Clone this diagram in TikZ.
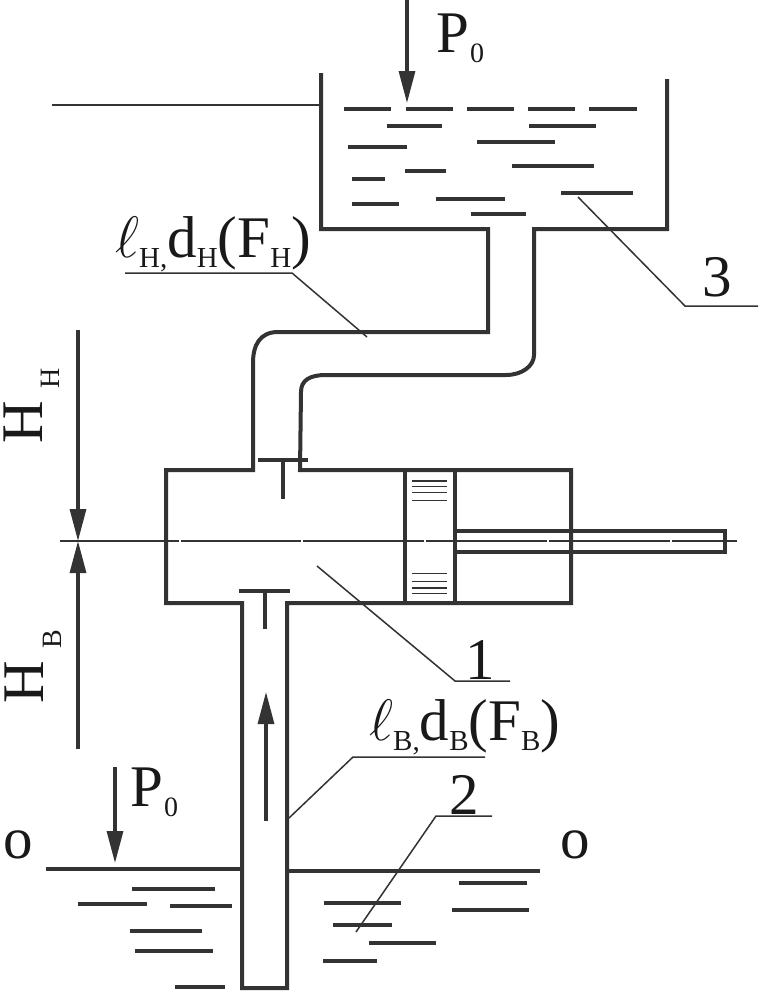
\documentclass[tikz,border=0pt]{standalone}
\usepackage{fontspec}
\setmainfont{Liberation Serif}
\usetikzlibrary{arrows.meta}
\definecolor{inkdark}{HTML}{333333}
\newcommand{\lowsub}[1]{{\fontsize{29}{30}\selectfont\raisebox{-10pt}{#1}}}
\newcommand{\ellsym}{\scalebox{2.35}{$\ell$}}
\tikzset{
	wall/.style={line width=4pt, color=inkdark, line join=miter},
	thinline/.style={line width=1.5pt, color=inkdark},
	liquid/.style={line width=4.4pt, color=inkdark},
	flow/.style={line width=3.2pt, color=inkdark, -{Triangle[length=32pt,width=16pt]}},
	bigtxt/.style={inner sep=0pt, color=black!90, font=\fontsize{59}{60}\selectfont},
	subtxt/.style={inner sep=0pt, color=black!90, font=\fontsize{28}{30}\selectfont}
}

\begin{document}
\begin{tikzpicture}[x=1pt, y=-1pt]
	\useasboundingbox (0, 0) rectangle (758, 991);
	\fill[white] (0, 0) rectangle (758, 991);

	% upper tank
	\draw[wall] (321, 73) -- (321, 229) -- (488, 229) -- (488, 332) -- (278, 332)
		.. controls (260, 332) and (253, 345) .. (253, 363) -- (253, 470) -- (166, 470)
		-- (166, 603) -- (242, 603) -- (242, 988) -- (287, 988) -- (287, 603) -- (571, 603)
		-- (571, 470) -- (300, 470) -- (301, 392)
		.. controls (301, 380) and (310, 375) .. (326, 375) -- (506, 375)
		.. controls (522, 375) and (534, 366) .. (534, 355) -- (534, 229) -- (667, 229) -- (667, 79);
	\draw[thinline] (52, 105) -- (321, 105);

	\foreach \ya/\xa/\xb in {109/344/391, 109/406/453, 109/467/514, 109/528/575, 109/589/637,
		126/387/442, 126/529/596, 142/477/555, 147/348/407, 166/512/594, 171/405/446,
		179/352/385, 193/561/633, 199/436/505, 204/352/399, 214/471/526}
		\draw[liquid] (\xa, \ya) -- (\xb, \ya);

	\draw[flow] (407, 0) -- (407, 103);
	\node[bigtxt] (topP) at (453, 33) {P};
	\node[subtxt] (topzero) at (477, 53) {0};

	% cylinder and piston
	\draw[wall] (405, 470) rectangle (455, 603);
	\draw[wall] (455, 531) -- (725, 531) -- (725, 552) -- (455, 552);
	\foreach \ya in {481, 486.5, 492.5, 500.5, 573.5, 581.5, 588, 593.5}
		\draw[line width=1.6pt, color=inkdark] (412, \ya) -- (447, \ya);

	\draw[wall] (258, 460) -- (308, 460);
	\draw[wall] (283, 460) -- (283, 499);
	\draw[wall] (239, 591) -- (290, 591);
	\draw[wall] (265, 591) -- (265, 629);

	\draw[thinline] (60, 541) -- (737, 541);
	\foreach \xa in {180, 302, 425, 548, 671}
		\draw[line width=2.2pt, color=white] (\xa-0.7, 541) -- (\xa+0.7, 541);

	% levels
	\draw[flow] (78, 330) -- (78, 541);
	\draw[flow] (78, 749) -- (78, 541);
	\node[bigtxt, rotate=90] (bigHtop) at (23, 422) {H};
	\node[subtxt, rotate=90] (subHtop) at (50, 378) {H};
	\node[bigtxt, rotate=90] (bigHlow) at (24, 682) {H};
	\node[subtxt, rotate=90] (subHlow) at (52, 639) {B};

	% intake pipe and lower basin
	\draw[flow] (266, 821) -- (266, 692);
	\draw[flow] (115, 767) -- (115, 863);
	\node[bigtxt] (lowP) at (147, 787) {P};
	\node[subtxt] (lowzero) at (171, 807) {0};
	\node[bigtxt] (leftlevel) at (18, 845) {o};
	\node[bigtxt] (rightlevel) at (575, 845) {o};

	\draw[liquid] (46, 869) -- (242, 869);
	\draw[liquid] (287, 871) -- (540, 871);
	\foreach \ya/\xa/\xb in {889/132/215, 904/78/147, 906/170/232, 931/130/202, 951/135/213, 987/175/225,
		883/459/527, 903/324/401, 910/452/529, 925/333/392, 943/369/436, 961/323/377}
		\draw[liquid] (\xa, \ya) -- (\xb, \ya);

	% leaders and labels
	\draw[thinline] (578, 197) -- (685, 306) -- (758, 306);
	\node[bigtxt] (three) at (717, 277) {3};
	\draw[thinline] (125, 273) -- (292, 273) -- (367, 337);
	\node[bigtxt, anchor=base west] (upperlabel) at (115, 257) {\ellsym\lowsub{H,}d\lowsub{H}(F\lowsub{H})};
	\draw[thinline] (317, 566) -- (455, 681) -- (510, 681);
	\node[bigtxt] (one) at (480, 660) {1};
	\draw[thinline] (289, 818) -- (353, 757) -- (485, 757);
	\node[bigtxt, anchor=base west] (lowerlabel) at (369, 740) {\ellsym\lowsub{B,}d\lowsub{B}(F\lowsub{B})};
	\draw[thinline] (356, 932) -- (436, 816) -- (492, 816);
	\node[bigtxt] (two) at (464, 795) {2};
\end{tikzpicture}
\end{document}
